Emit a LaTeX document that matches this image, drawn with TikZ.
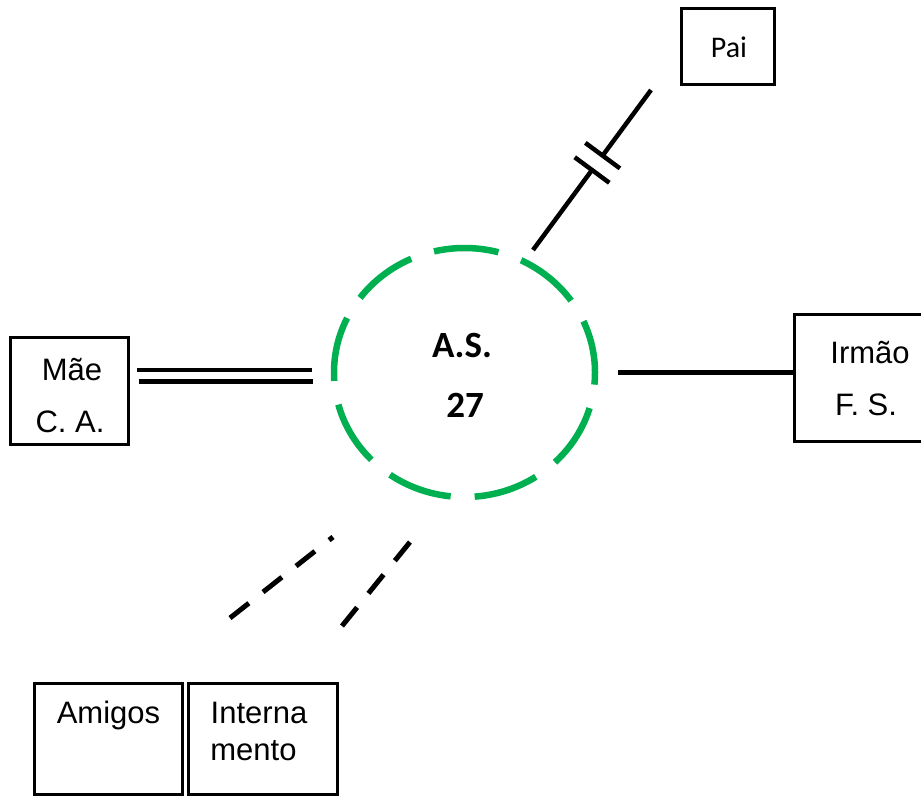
\documentclass[tikz,border=0pt]{standalone}
\usepackage{fontspec}
\setmainfont{Liberation Sans}
\newfontfamily\calfont{Carlito}
\usetikzlibrary{calc}
\definecolor{ecogreen}{RGB}{0,176,80}
\begin{document}
\begin{tikzpicture}[x=1pt,y=-1pt,
  box/.style={draw, line width=3pt, inner sep=0pt, rectangle},
  txt/.style={inner sep=0pt, anchor=base, font=\fontsize{31}{31}\selectfont},
  link/.style={line width=4.5pt},
  weak/.style={line width=5pt, dash pattern=on 24pt off 18pt}]
\clip (0,0) rectangle (921,796);
% boxes
\node[box, minimum width=93pt, minimum height=76pt] (pai) at (728,46.5) {};
\node[box, minimum width=118pt, minimum height=107pt] (mae) at (69.5,391) {};
\node[box, minimum width=153.5pt, minimum height=127pt] (irmao) at (871.25,378) {};
\node[box, minimum width=148pt, minimum height=110.5pt] (amigos) at (108.5,738.75) {};
\node[box, minimum width=149pt, minimum height=110.5pt] (intern) at (263,738.75) {};
% texts
\node[txt, font=\calfont\fontsize{30}{30}\selectfont] (paiT) at (729,57) {Pai};
\node[txt] (maeT1) at (72,380) {Mãe};
\node[txt] (maeT2) at (70,432) {C. A.};
\node[txt] (irT1) at (870,363) {Irmão};
\node[txt] (irT2) at (866,415) {F. S.};
\node[txt] (amT) at (108.5,723) {Amigos};
\node[txt] (inT1) at (259,723) {Interna};
\node[txt] (inT2) at (253.5,760) {mento};
% central person
\coordinate (ego) at (464.5,372.5);
\draw[ecogreen, line width=6.5pt, dash pattern=on 65pt off 24.02pt, dash phase=12pt]
  (ego) ellipse [x radius=130.5pt, y radius=124.5pt];
\node[inner sep=0pt, anchor=base, font=\calfont\bfseries\fontsize{37}{37}\selectfont] (egoT1) at (462,357) {A.S.};
\node[inner sep=0pt, anchor=base, font=\calfont\bfseries\fontsize{37}{37}\selectfont] (egoT2) at (465,417) {27};
% connector ends
\coordinate (paiE) at (651,90);
\coordinate (paiC) at (533,250);
\coordinate (irE) at (618,372.7);
\coordinate (amE) at (230,618);
\coordinate (amC) at (333,537);
\coordinate (inE) at (342,626);
\coordinate (inC) at (410,542);
% broken relation with Pai
\coordinate (b1) at ($(paiE)!0.41!(paiC)$);
\coordinate (b2) at ($(paiE)!0.50!(paiC)$);
\draw[link] (paiE) -- (b1);
\draw[link] (b2) -- (paiC);
\draw[link] ($(b1)!21.5pt!90:(paiC)$) -- ($(b1)!21.5pt!-90:(paiC)$);
\draw[link] ($(b2)!21.5pt!90:(paiC)$) -- ($(b2)!21.5pt!-90:(paiC)$);
% strong relation with Mae (double line)
\coordinate (m1a) at (137,370);
\coordinate (m1b) at (312,370);
\coordinate (m2a) at (139,381.7);
\coordinate (m2b) at (313,381.7);
\draw[link] (m1a) -- (m1b);
\draw[link] (m2a) -- (m2b);
% normal relation with Irmao
\draw[link] (irE) -- (irE -| irmao.west);
% weak relations
\draw[weak] (amE) -- (amC);
\draw[weak] (inE) -- (inC);
\end{tikzpicture}
\end{document}
